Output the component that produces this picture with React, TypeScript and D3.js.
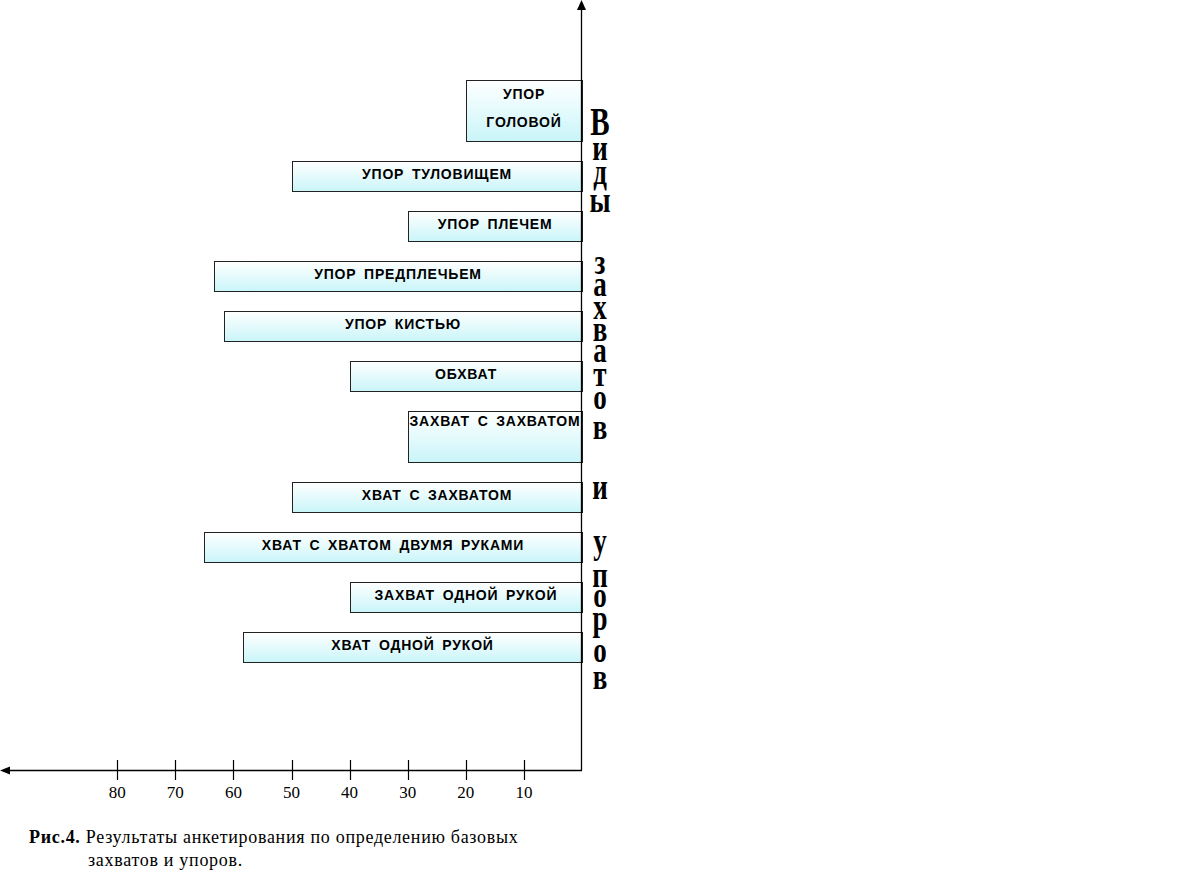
import React from "react";
import * as d3 from "d3";

const categories: string[][] = [
  ["УПОР", "ГОЛОВОЙ"],
  ["УПОР ТУЛОВИЩЕМ"],
  ["УПОР ПЛЕЧЕМ"],
  ["УПОР ПРЕДПЛЕЧЬЕМ"],
  ["УПОР КИСТЬЮ"],
  ["ОБХВАТ"],
  ["ЗАХВАТ С ЗАХВАТОМ"],
  ["ХВАТ С ЗАХВАТОМ"],
  ["ХВАТ С ХВАТОМ ДВУМЯ РУКАМИ"],
  ["ЗАХВАТ ОДНОЙ РУКОЙ"],
  ["ХВАТ ОДНОЙ РУКОЙ"],
];
const values: number[] = [20, 50, 30, 63.3, 61.6, 40, 30, 50, 65, 40, 58.3];
// relative bar thickness (1 = standard row)
const rowSize: number[] = [2.03, 1, 1, 1, 1, 1, 1.7, 1, 1, 1, 1];
const labelAlign: string[] = ["center", "center", "center", "center", "center", "center", "top", "center", "center", "center", "center"];
const tickValues: number[] = [80, 70, 60, 50, 40, 30, 20, 10];
const axisTitle = "Виды захватов и упоров";
// baseline of each stacked letter of the vertical title (layout)
const titleLetterY: number[] = [135, 160, 184, 212, 274, 296, 319, 341, 362, 386, 409, 439, 499, 553, 587, 607, 630, 662, 689];
const captionBold = "Рис.4.";
const captionLine1 = " Результаты анкетирования по определению базовых";
const captionLine2 = "захватов и упоров.";

export default function App() {
  const W = 1190, H = 880;
  const x0 = 582;
  const axisY = 770;
  const x = d3.scaleLinear().domain([0, 100]).range([x0, x0 - 581]);

  const unit = 30, gap = 20, top0 = 80;
  const bars: { top: number; h: number; i: number }[] = [];
  let cur = top0;
  rowSize.forEach((s, i) => {
    const h = Math.round(unit * s);
    bars.push({ top: cur, h, i });
    cur += h + gap;
  });

  const letters = axisTitle.replace(/ /g, "").split("");

  const labelFont = {
    fontFamily: "'Liberation Sans', Arial, sans-serif",
    fontWeight: 700,
    fontSize: 14,
    letterSpacing: 0.8,
    wordSpacing: 3,
  } as React.CSSProperties;

  const serif = "'Liberation Serif', 'Times New Roman', serif";

  return (
    <svg
      width={W}
      height={H}
      style={{ position: "absolute", left: 0, top: 0, background: "#fff" }}
      xmlns="http://www.w3.org/2000/svg"
    >
      <defs>
        <linearGradient id="barGrad" x1="0" y1="0" x2="0" y2="1">
          <stop offset="0%" stopColor="#ffffff" />
          <stop offset="100%" stopColor="#c9f5f9" />
        </linearGradient>
      </defs>
      <rect x={0} y={0} width={W} height={H} fill="#fff" />

      {bars.map(({ top, h, i }) => {
        const xl = Math.round(x(values[i]));
        const cx = (xl + x0) / 2;
        const lines = categories[i];
        return (
          <g key={i}>
            <rect
              x={xl + 0.5}
              y={top + 0.5}
              width={x0 - xl}
              height={h}
              fill="url(#barGrad)"
              stroke="#222"
              strokeWidth={1}
            />
            {lines.map((ln, j) => {
              let y: number;
              if (labelAlign[i] === "top") y = top + 15;
              else if (lines.length === 2) y = top + 19 + j * 28;
              else y = top + h / 2 + 3;
              return (
                <text key={j} x={cx} y={y} textAnchor="middle" style={labelFont} fill="#000">
                  {ln}
                </text>
              );
            })}
          </g>
        );
      })}

      {/* vertical axis */}
      <line x1={581.5} y1={axisY} x2={581.5} y2={8} stroke="#000" strokeWidth={1.3} />
      <path d={`M581.5,0 L577,10 L586,10 Z`} fill="#000" />
      {/* horizontal axis */}
      <line x1={8} y1={axisY + 0.5} x2={582} y2={axisY + 0.5} stroke="#000" strokeWidth={1.3} />
      <path d={`M0,${axisY + 0.5} L10,${axisY - 3.5} L10,${axisY + 4.5} Z`} fill="#000" />

      {tickValues.map((t) => (
        <g key={t}>
          <line x1={Math.round(x(t)) + 0.5} x2={Math.round(x(t)) + 0.5} y1={axisY - 10} y2={axisY + 10} stroke="#000" strokeWidth={1.2} />
          <text x={x(t)} y={798} textAnchor="middle" fontFamily={serif} fontSize={17} fill="#000">
            {t}
          </text>
        </g>
      ))}

      {letters.map((ch, k) => (
        <text
          key={k}
          transform={`translate(600,${titleLetterY[k]}) scale(1,1.35)`}
          textAnchor="middle"
          fontFamily={serif}
          fontWeight={700}
          fontSize={k === 0 ? 29 : 27}
          fill="#000"
        >
          {ch}
        </text>
      ))}

      <text x={29} y={843} fontFamily={serif} fontSize={18} letterSpacing={0.7} fill="#000">
        <tspan fontWeight={700}>{captionBold}</tspan>
        <tspan style={{ whiteSpace: "pre" }}>{captionLine1}</tspan>
      </text>
      <text x={88} y={866} fontFamily={serif} fontSize={18} letterSpacing={0.7} fill="#000">
        {captionLine2}
      </text>
    </svg>
  );
}
